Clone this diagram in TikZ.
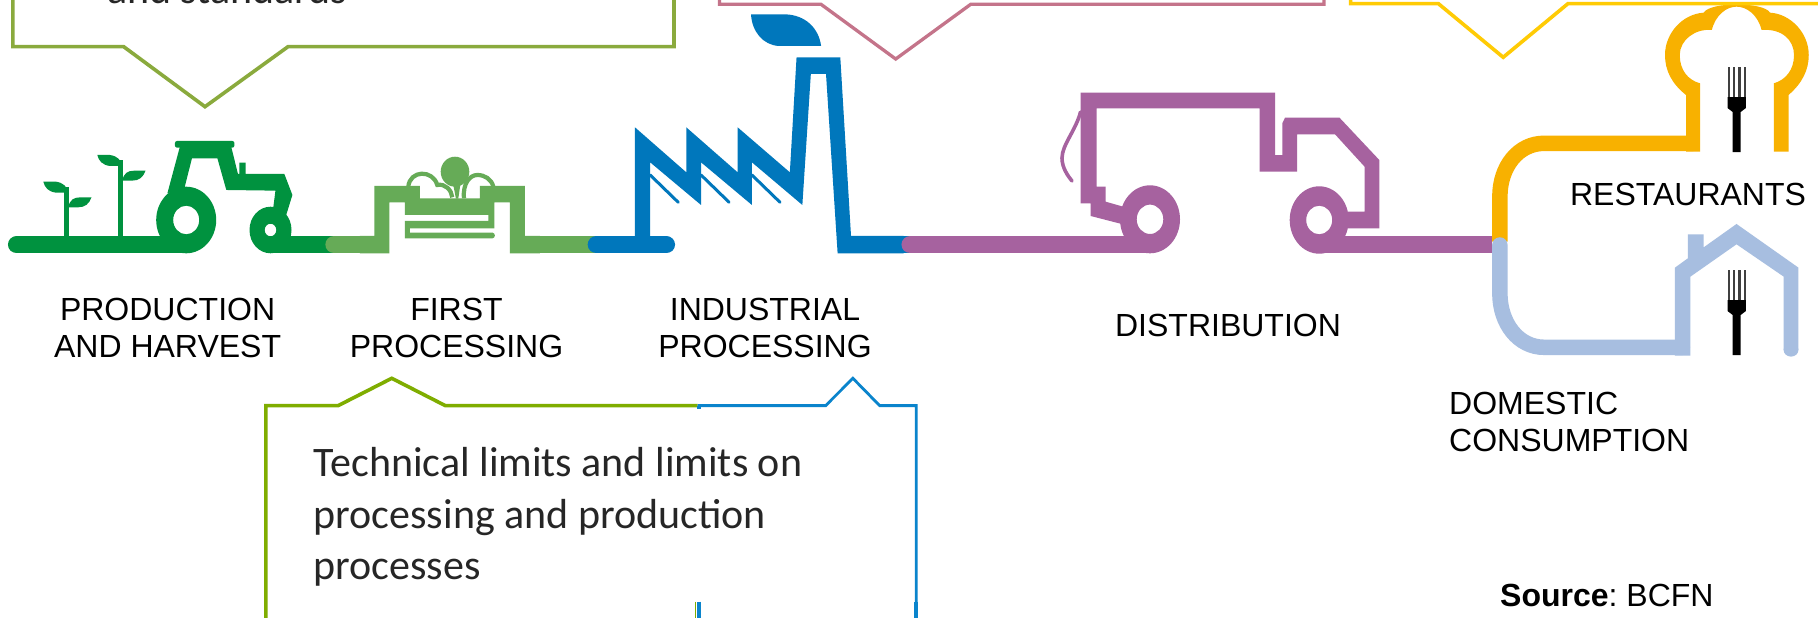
\documentclass[tikz,border=0pt]{standalone}
\usepackage{fontspec}
\setmainfont{Liberation Sans}
\newfontfamily\calloutfont{Carlito}
\definecolor{cTractor}{HTML}{00923F}
\definecolor{cFirst}{HTML}{66AB57}
\definecolor{cInd}{HTML}{0077BC}
\definecolor{cTruck}{HTML}{A6629F}
\definecolor{cOrange}{HTML}{F8B100}
\definecolor{cHome}{HTML}{A7BEE0}
\definecolor{cOlive}{HTML}{8AAA3D}
\definecolor{cPink}{HTML}{C4748A}
\definecolor{cYellow}{HTML}{FFCB05}
\definecolor{cBoxGreen}{HTML}{7FAD00}
\definecolor{cBoxBlue}{HTML}{0A84CC}
\tikzset{
  zoomA/.style={x=0.4464pt,y=-0.3333pt},
  zoomC/.style={x=0.3686pt,y=-0.3333pt},
  zoomE/.style={x=0.3333pt,y=-0.3333pt},
  pipe/.style={line width=17.3pt},
  stageLabel/.style={inner sep=0pt,align=center,font=\fontsize{32}{37}\selectfont},
  calloutText/.style={inner sep=0pt,align=left,text=black!85,font=\calloutfont\fontsize{42}{51.5}\selectfont},
  calloutLine/.style={line width=3.6pt,line join=miter},
  forkpic/.pic={
    \fill[black] (-9.2,18) -- (9.2,18) -- (9.2,29) -- (4,33) -- (4,73) -- (-4,73) -- (-4,33) -- (-9.2,29) -- cycle;
    \fill[black!75] (-9.2,-12) rectangle (-6.9,18);
    \fill[black!75] (-3.9,-12) rectangle (-1.6,18);
    \fill[black!75] (1.6,-12) rectangle (3.9,18);
    \fill[black!75] (6.9,-12) rectangle (9.2,18);
  },
}
\begin{document}
\begin{tikzpicture}[x=1pt,y=-1pt]
\useasboundingbox (0,0) rectangle (1818,618);
\clip (0,0) rectangle (1818,618);
\fill[white] (0,0) rectangle (1818,618);

% ---------- tractor and plants
\draw[pipe,cTractor,line cap=round] (16.6,244.7) -- (186,244.7);
\draw[pipe,cTractor] (270,244.7) -- (335,244.7);
\fill[cTractor,even odd rule] (186.2,220) ellipse [x radius=30pt,y radius=33.3pt]
      (186.2,220) ellipse [x radius=13pt,y radius=14.3pt];
\fill[cTractor,even odd rule] (270.5,230) ellipse [x radius=21pt,y radius=23.3pt]
      (270.5,230) ellipse [x radius=5.8pt,y radius=6.3pt];
\begin{scope}[zoomA]
  \fill[cTractor,rounded corners=2pt] (392,423) rectangle (525,443);
  \fill[cTractor] (403,440) -- (518,440) -- (533,522) -- (536,522) -- (536,488) -- (550,488) -- (550,522)
     -- (637,522) -- (655,585) -- (640,650) -- (612,625) -- (617,572) -- (507,570) -- (487,475) -- (430,475)
     -- (413,565) -- (375,580) -- cycle;
  \fill[cTractor] (143,712) rectangle (154,560);
  \fill[cTractor] (264,712) rectangle (275,480);
  \foreach \dx/\dy in {0/0,121/-80}{
    \begin{scope}[shift={(\dx,\dy)}]
      \fill[cTractor] (97,545) -- (125,545) .. controls (142,548) and (150,560) .. (153,578)
         -- (125,578) .. controls (108,575) and (100,562) .. (97,545) -- cycle;
      \fill[cTractor] (153,622) .. controls (156,600) and (165,592) .. (180,592) -- (205,592)
         .. controls (200,612) and (190,622) .. (175,622) -- cycle;
    \end{scope}
  }
\end{scope}

% ---------- first processing
\draw[pipe,cFirst,line cap=round] (334,244.7) -- (365,244.7);
\draw[pipe,cFirst] (535,244.7) -- (600,244.7);
\begin{scope}[zoomE,shift={(1080,420)}]
  \fill[cFirst] (0,288) -- (43,288) -- (43,138) -- (180,138) -- (180,175) -- (360,175) -- (360,138)
     -- (495,138) -- (495,288) -- (540,288) -- (540,340) -- (450,340) -- (450,187) -- (403,187) -- (403,265)
     -- (150,265) -- (150,278) -- (398,278) .. controls (407,280) and (407,293) .. (398,295)
     -- (135,295) -- (135,243) -- (385,243) -- (385,225) -- (135,225) -- (135,187) -- (88,187) -- (88,340)
     -- (0,340) -- cycle;
  \draw[cFirst,line width=4.2pt] (145,140) .. controls (150,90) and (218,88) .. (232,135)
     .. controls (255,130) and (275,150) .. (277,172);
  \draw[cFirst,line width=4.2pt] (312,175) .. controls (308,130) and (330,105) .. (352,105)
     .. controls (375,105) and (395,118) .. (400,140);
  \fill[cFirst] (280,135) -- (301,135) -- (295,176) -- (288,176) -- cycle;
\end{scope}
\fill[cFirst] (455,171.7) ellipse [x radius=14.3pt,y radius=15pt];

% ---------- factory
\draw[pipe,cInd] (850,244.7) -- (940,244.7);
\draw[pipe,cInd,line cap=round] (596.3,244.7) -- (666.4,244.7);
\begin{scope}[zoomA,shift={(1254.4,0)}]
  \fill[cInd] (168,382) -- (283,517) -- (283,382) -- (398,517) -- (398,382) -- (515,517) -- (530,172)
     -- (628,172) -- (652,708) -- (770,708) -- (770,760) -- (622,760) -- (596,222) -- (562,222) -- (543,615)
     -- (430,487) -- (430,615) -- (316,487) -- (316,615) -- (202,487) -- (202,720) -- (168,720) -- cycle;
  \foreach \dx in {0,114,228}{
    \draw[cInd,line width=3pt,line cap=round] (202+\dx,525) -- (265+\dx,607);
  }
  \fill[cInd] (428,43) -- (505,43) .. controls (550,45) and (580,85) .. (585,138) -- (490,138)
     .. controls (455,135) and (430,95) .. (428,43) -- cycle;
\end{scope}

% ---------- truck
\draw[pipe,cTruck,line cap=round] (910.1,244.7) -- (1150,244.7);
\fill[cTruck,even odd rule] (1150,219.3) ellipse [x radius=30pt,y radius=34pt]
      (1150,219.3) ellipse [x radius=13.3pt,y radius=14.7pt];
\fill[cTruck] (1080.7,92.7) -- (1275,92.7) -- (1275,155) -- (1282.4,155) -- (1282.4,123) -- (1285,117.7)
   -- (1339.5,117.7) -- (1379.3,160) -- (1379.3,228.3) -- (1348,228.3) -- (1348,211.7) -- (1364.6,211.7)
   -- (1364.6,166.7) -- (1335,134.3) -- (1297,134.3) -- (1297,171.7) -- (1259.5,171.7) -- (1259.5,108.3)
   -- (1096.7,108.3) -- (1096.7,186.7) -- (1105.7,186.7) -- (1105.7,201.7) -- (1123.3,206.7) -- (1121.7,224)
   -- (1090.7,216) -- (1090.7,203.3) -- (1080.7,203.3) -- cycle;
\draw[cTruck,line width=3.6pt,line cap=round] (1080.5,112) .. controls (1076,130) and (1062,145) .. (1062,158)
   .. controls (1062,168) and (1068,176) .. (1072,181);
\draw[pipe,cTruck] (1319,244.7) -- (1492,244.7);
\fill[cTruck,even odd rule] (1319.2,220) ellipse [x radius=29.5pt,y radius=33.7pt]
      (1319.2,220) ellipse [x radius=13pt,y radius=14.3pt];

% ---------- restaurants and home
\begin{scope}[zoomC,shift={(3364,0)}]
  \draw[cOrange,line width=15.5pt] (705,725) -- (705,590) .. controls (705,500) and (755,430) .. (825,430) -- (1230,430);
  \fill[cOrange] (1210,455) -- (1210,285) .. controls (1170,250) and (1153,210) .. (1153,165)
     .. controls (1153,100) and (1200,42) .. (1258,38) .. controls (1275,5) and (1420,5) .. (1438,38)
     .. controls (1495,42) and (1543,100) .. (1543,165) .. controls (1543,210) and (1525,250) .. (1488,285)
     -- (1488,455) -- (1448,455) -- (1448,250) .. controls (1480,240) and (1503,210) .. (1503,165)
     .. controls (1503,120) and (1470,85) .. (1415,90) .. controls (1405,45) and (1375,20) .. (1347,20)
     .. controls (1320,20) and (1290,45) .. (1280,90) .. controls (1235,85) and (1193,120) .. (1193,165)
     .. controls (1193,210) and (1215,240) .. (1248,250) -- (1248,455) -- cycle;
  \draw[cHome,line width=15.5pt,line cap=round] (705,735) -- (705,880) .. controls (705,970) and (755,1042) .. (825,1042) -- (1200,1042);
  \fill[cHome] (1180,1017) -- (1180,803) -- (1215,775) -- (1215,703) -- (1258,703) -- (1258,742) -- (1347,672)
     -- (1515,803) -- (1515,1050) -- (1475,1050) -- (1475,830) -- (1347,733) -- (1222,830) -- (1222,1067)
     -- (1180,1067) -- cycle;
\end{scope}
\fill[cHome] (1791,350) ellipse [x radius=7.4pt,y radius=6.6pt];
\pic at (1736.7,79) {forkpic};
\pic at (1736.7,282) {forkpic};

% ---------- callouts
\draw[calloutLine,cOlive] (12.9,-10) -- (12.9,46.7) -- (123.7,46.7) -- (205,106.7) -- (288,46.7) -- (674,46.7) -- (674,-10);
\draw[calloutLine,cPink,line width=3.3pt] (719.4,-10) -- (719.4,4.3) -- (821,4.3) -- (895.7,59) -- (970.7,4.3) -- (1324,4.3) -- (1324,-10);
\draw[calloutLine,cYellow] (1350.6,-10) -- (1350.6,3.6) -- (1438.3,3.6) -- (1503.2,57.3) -- (1568,3.6) -- (1830,3.6);
\begin{scope}[zoomA,shift={(537.6,870)}]
  \draw[calloutLine,cBoxGreen] (58,1000) -- (58,347) -- (220,347) -- (340,265) -- (460,347) -- (1025,347);
  \draw[calloutLine,cBoxBlue,line width=2.8pt] (1025,347) -- (1312,347) -- (1373,265) -- (1433,347) -- (1515,347) -- (1515,1000);
  \draw[calloutLine,cBoxBlue] (1028,347) -- (1028,358);
  \draw[calloutLine,cBoxBlue] (1028,935) -- (1028,1000);
  \draw[cBoxGreen,line width=1.2pt] (1021,935) -- (1021,1000);
  \draw[calloutLine,cBoxBlue] (1515,935) -- (1515,1000);
\end{scope}

% ---------- texts
\node[calloutText,anchor=base west] (standards) at (107,3.3) {and standards};
\node[calloutText,anchor=north west] (limits) at (313.5,447.5) {Technical limits and limits on\\processing and production\\processes};
\node[stageLabel] (harvest) at (167.6,327.5) {PRODUCTION\\AND HARVEST};
\node[stageLabel] (first) at (456.5,327.5) {FIRST\\PROCESSING};
\node[stageLabel] (industrial) at (765,327.5) {INDUSTRIAL\\PROCESSING};
\node[stageLabel] (distribution) at (1228,325) {DISTRIBUTION};
\node[stageLabel] (restaurants) at (1688,194) {RESTAURANTS};
\node[stageLabel,align=left,anchor=west] (domestic) at (1449,421.5) {DOMESTIC\\CONSUMPTION};
\node[stageLabel,anchor=base west] (source) at (1500,606.7) {\textbf{Source}:\kern-3pt{} BCFN};
\end{tikzpicture}
\end{document}
